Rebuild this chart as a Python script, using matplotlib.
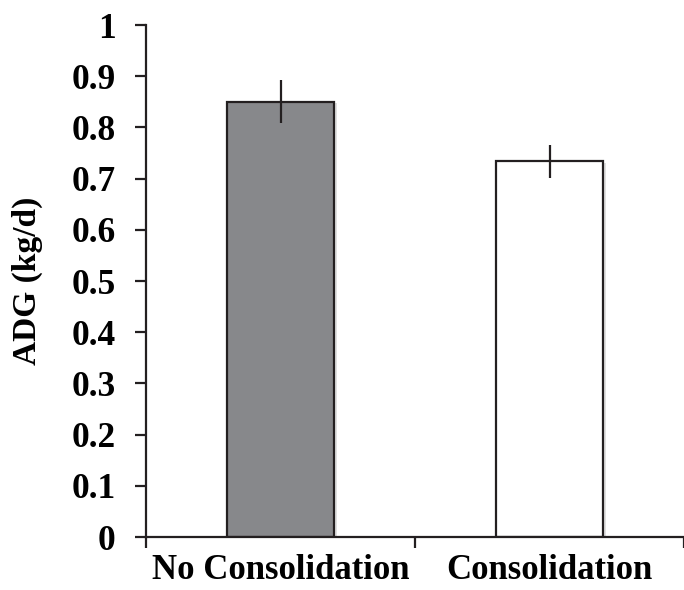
import matplotlib
matplotlib.use("Agg")
import matplotlib.pyplot as plt
import matplotlib.patheffects as pe

groups = ["No Consolidation", "Consolidation"]
adg = [0.85, 0.734]
err = [0.042, 0.032]
colors = ["#87888b", "#ffffff"]

plt.rcParams["font.family"] = ["Liberation Serif", "DejaVu Serif"]
plt.rcParams["font.weight"] = "bold"

fig = plt.figure(figsize=(6.84, 5.9), dpi=100)
ax = fig.add_axes([146 / 684, 53 / 590, 538 / 684, 512 / 590])

pos = [0.5, 1.5]
bars = ax.bar(pos, adg, width=0.4, color=colors, edgecolor="#231f20", linewidth=1.6, zorder=2)
for b in bars:
    b.set_path_effects([pe.SimplePatchShadow(offset=(2, -1), shadow_rgbFace="#000000", alpha=0.12), pe.Normal()])
ax.errorbar(pos, adg, yerr=err, fmt="none", ecolor="#231f20", elinewidth=1.6, capsize=0, zorder=3)

ax.set_xlim(0, 2)
ax.set_ylim(0, 1)
ax.set_yticks([i / 10 for i in range(11)])
ax.set_yticklabels(["0"] + [f"{i / 10:.1f}" for i in range(1, 10)] + ["1"])
ax.set_xticks([0, 1, 2])
ax.set_xticklabels([])
ax.set_xticks(pos, minor=True)
ax.set_xticklabels(groups, minor=True)

for s in ["top", "right"]:
    ax.spines[s].set_visible(False)
for s in ["left", "bottom"]:
    ax.spines[s].set_linewidth(1.6)
    ax.spines[s].set_color("#231f20")

ax.tick_params(axis="y", direction="out", length=8, width=1.6, pad=14, labelsize=25.5, color="#231f20")
ax.tick_params(axis="x", which="major", direction="out", length=8, width=1.6, color="#231f20")
ax.tick_params(axis="x", which="minor", length=0, pad=12, labelsize=25)
ax.set_ylabel("ADG (kg/d)", fontsize=24, fontweight="bold", labelpad=20)

fig.savefig("out.png", dpi=100)
